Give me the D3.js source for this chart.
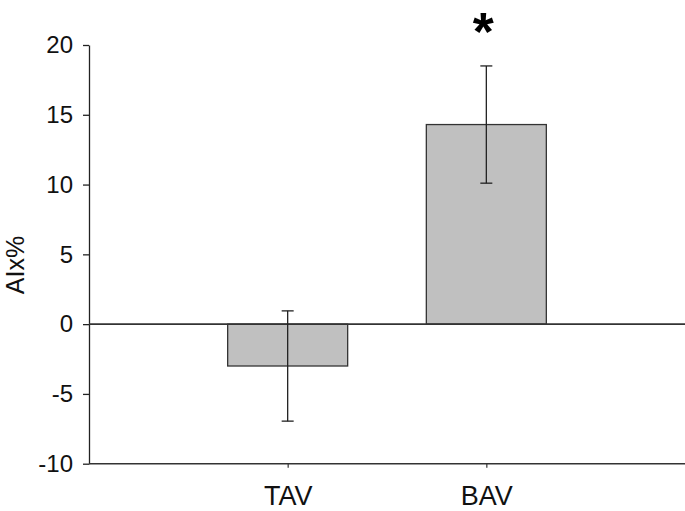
<!DOCTYPE html>
<html>
<head>
<meta charset="utf-8">
<script src="https://cdn.jsdelivr.net/npm/d3@7"></script>
<style>
    body { margin: 0; background: #fff; }
    svg { display: block; font-family: Arial, "Liberation Sans", sans-serif; }
</style>
</head>
<body>
<div id="chart"></div>
<script>
// chart values
var categories = ["TAV", "BAV"];
var means = [-3.0, 14.3];
var errors = [3.95, 4.2];
var yTicks = [-10, -5, 0, 5, 10, 15, 20];
var marks = ["", "*"];

var width = 685, height = 511;
var margin = { left: 89, right: 0, top: 45, bottom: 48 };

var svg = d3.select("#chart").append("svg")
    .attr("width", width)
    .attr("height", height);

// scales
var y = d3.scaleLinear()
    .domain([-10, 20])
    .range([height - margin.bottom + 0.7, margin.top]);

var plotW = width - margin.left - margin.right;
var x = d3.scalePoint()
    .domain(categories)
    .range([margin.left + plotW / 3, margin.left + 2 * plotW / 3]);
var barW = 120;

// y axis (plain hyphen for negatives, like the original)
var yAxis = svg.append("g")
    .attr("transform", "translate(" + margin.left + ",0)")
    .call(d3.axisLeft(y).tickValues(yTicks)
        .tickFormat(function (d) { return String(d); })
        .tickSize(6).tickPadding(10).tickSizeOuter(0));
yAxis.select(".domain").attr("stroke", "#222").attr("stroke-width", 1.3);
yAxis.selectAll(".tick line").attr("stroke", "#222").attr("stroke-width", 1.3);
yAxis.selectAll(".tick text")
    .attr("fill", "#111")
    .style("font-size", "24px")
    .attr("font-family", "Arial, 'Liberation Sans', sans-serif");

// x axis at bottom
var xAxis = svg.append("g")
    .attr("transform", "translate(0," + y(-10) + ")")
    .call(d3.axisBottom(x).tickSize(4).tickPadding(18).tickSizeOuter(0));
xAxis.select(".domain")
    .attr("d", "M" + margin.left + ",0H" + width)
    .attr("stroke", "#333").attr("stroke-width", 1.5);
xAxis.selectAll(".tick line").attr("stroke", "#333").attr("stroke-width", 1.2);
xAxis.selectAll(".tick text")
    .attr("fill", "#111")
    .style("font-size", "27px")
    .attr("font-family", "Arial, 'Liberation Sans', sans-serif");

// y title
svg.append("text")
    .attr("transform", "translate(24," + 265 + ") rotate(-90)")
    .attr("text-anchor", "middle")
    .attr("fill", "#111")
    .style("font-size", "25px")
    .text("AIx%");

// bars
svg.selectAll("rect.bar")
    .data(categories)
    .enter()
    .append("rect")
    .attr("class", "bar")
    .attr("x", function (d) { return x(d) - barW / 2; })
    .attr("y", function (d, i) { return y(Math.max(0, means[i])); })
    .attr("width", barW)
    .attr("height", function (d, i) { return Math.abs(y(means[i]) - y(0)); })
    .attr("fill", "#c0c0c0")
    .attr("stroke", "#333")
    .attr("stroke-width", 1.3);

// zero line
svg.append("line")
    .attr("x1", margin.left).attr("x2", width)
    .attr("y1", y(0)).attr("y2", y(0))
    .attr("stroke", "#333")
    .attr("stroke-width", 1.6);

// error bars
var err = svg.selectAll("g.err")
    .data(categories)
    .enter()
    .append("g")
    .attr("class", "err")
    .attr("stroke", "#222")
    .attr("stroke-width", 1.3);
err.append("line")
    .attr("x1", function (d) { return x(d); })
    .attr("x2", function (d) { return x(d); })
    .attr("y1", function (d, i) { return y(means[i] + errors[i]); })
    .attr("y2", function (d, i) { return y(means[i] - errors[i]); });
err.append("line")
    .attr("x1", function (d) { return x(d) - 6; })
    .attr("x2", function (d) { return x(d) + 6; })
    .attr("y1", function (d, i) { return y(means[i] + errors[i]); })
    .attr("y2", function (d, i) { return y(means[i] + errors[i]); });
err.append("line")
    .attr("x1", function (d) { return x(d) - 6; })
    .attr("x2", function (d) { return x(d) + 6; })
    .attr("y1", function (d, i) { return y(means[i] - errors[i]); })
    .attr("y2", function (d, i) { return y(means[i] - errors[i]); });

// significance marks
svg.selectAll("text.sig")
    .data(categories)
    .enter()
    .append("text")
    .attr("class", "sig")
    .attr("x", function (d) { return x(d) - 3; })
    .attr("y", 50)
    .attr("text-anchor", "middle")
    .attr("fill", "#000")
    .style("font-size", "54px")
    .style("font-weight", "bold")
    .text(function (d, i) { return marks[i]; });
</script>
</body>
</html>
